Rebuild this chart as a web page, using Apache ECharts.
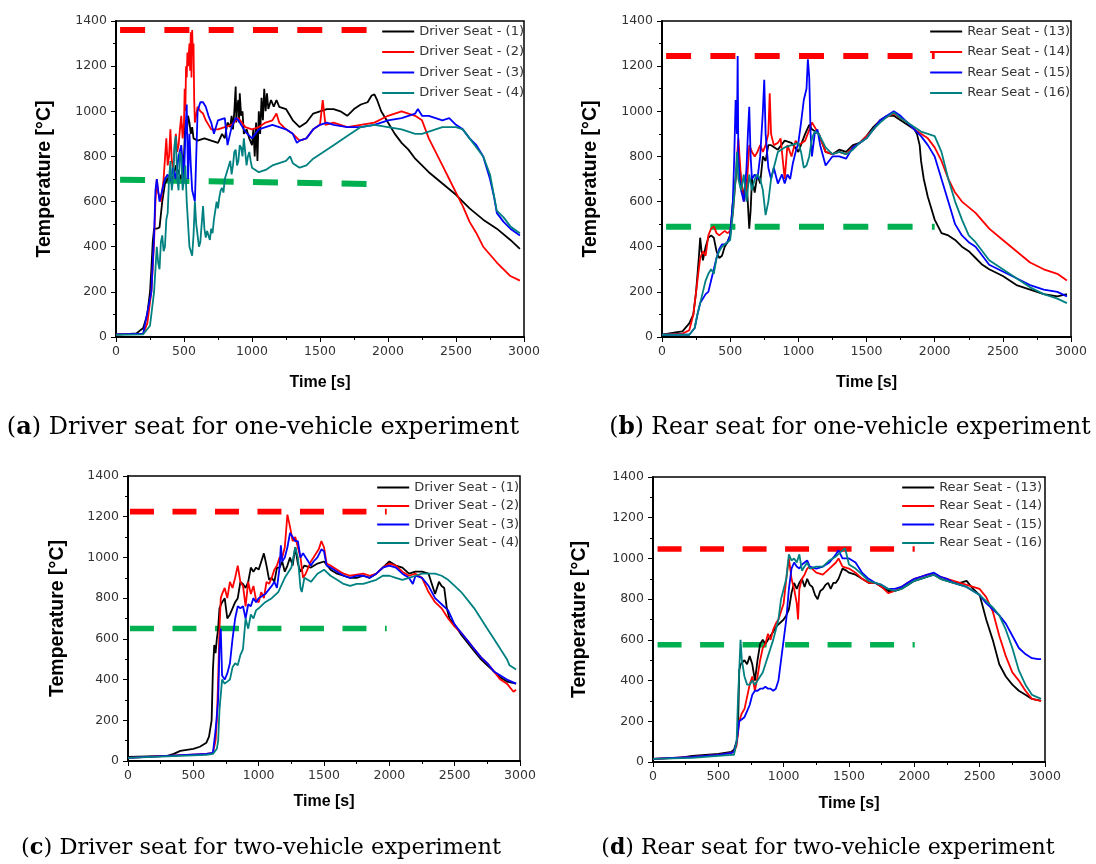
<!DOCTYPE html>
<html>
<head>
<meta charset="utf-8">
<script src="https://cdn.jsdelivr.net/npm/echarts@6/dist/echarts.min.js"></script>
<style>
  html, body { margin: 0; padding: 0; background: #fff; }
  #chart { width: 1096px; height: 864px; }
</style>
</head>
<body>
<div id="chart"></div>
<script>
// ---- labels ----
const driverNames = ['Driver Seat - (1)', 'Driver Seat - (2)', 'Driver Seat - (3)', 'Driver Seat - (4)'];
const rearNames = ['Rear Seat - (13)', 'Rear Seat - (14)', 'Rear Seat - (15)', 'Rear Seat - (16)'];
const captions = [
  ['a', 'Driver seat for one-vehicle experiment'],
  ['b', 'Rear seat for one-vehicle experiment'],
  ['c', 'Driver seat for two-vehicle experiment'],
  ['d', 'Rear seat for two-vehicle experiment']
];
const xTicks = [0, 500, 1000, 1500, 2000, 2500, 3000];
const yTicks = [0, 200, 400, 600, 800, 1000, 1200, 1400];

// ---- (a) driver seat, one vehicle: [time s, temperature °C] ----
const a1 = [[0,12],[100,14],[150,16],[200,40],[230,100],[250,200],[260,300],[270,420],[280,480],[300,480],[320,485],[340,600],[360,680],[380,700],[400,720],[420,700],[440,760],[460,730],[480,700],[500,800],[510,960],[520,900],[530,980],[540,950],[550,900],[560,930],[570,880],[580,880],[600,870],[650,880],[700,870],[750,860],[780,900],[800,880],[820,950],[840,930],[850,980],[860,920],[870,1000],[880,1110],[885,950],[890,1020],[900,1050],[905,950],[910,1080],[920,980],[930,1000],[940,900],[960,920],[980,880],[1000,850],[1010,920],[1020,800],[1030,950],[1040,780],[1050,1000],[1060,900],[1070,1060],[1080,960],[1090,1100],[1100,1000],[1110,1080],[1120,1010],[1140,1050],[1160,1020],[1180,1050],[1200,1020],[1250,1010],[1300,960],[1350,930],[1400,950],[1450,990],[1500,1000],[1550,1010],[1600,1010],[1650,1000],[1700,980],[1750,1010],[1800,1030],[1850,1040],[1880,1070],[1900,1075],[1920,1050],[1950,1000],[2000,950],[2050,900],[2100,860],[2150,830],[2200,790],[2250,760],[2300,730],[2400,680],[2500,630],[2600,570],[2700,520],[2800,480],[2900,430],[2970,390]];
const a2 = [[0,12],[200,15],[230,60],[260,200],[280,420],[290,600],[300,700],[310,640],[330,600],[350,700],[370,880],[380,760],[390,800],[400,920],[410,780],[420,750],[440,900],[450,820],[460,850],[470,920],[480,980],[490,880],[500,950],[505,1100],[510,1000],[515,1200],[520,1150],[525,1260],[530,1200],[540,1300],[545,1180],[550,1350],[555,1150],[560,1360],[565,1250],[570,1300],[575,1050],[580,950],[600,1020],[620,1000],[640,990],[660,960],[700,920],[750,920],[800,930],[850,940],[900,970],[950,930],[1000,920],[1050,930],[1100,950],[1150,960],[1180,990],[1200,950],[1250,920],[1300,900],[1350,870],[1400,880],[1450,920],[1500,940],[1520,1050],[1540,940],[1600,950],[1700,930],[1800,940],[1900,950],[2000,980],[2100,1000],[2150,990],[2200,980],[2250,960],[2300,880],[2350,820],[2400,760],[2450,700],[2500,640],[2550,580],[2600,510],[2650,460],[2700,400],[2800,330],[2900,270],[2970,250]];
const a3 = [[0,12],[200,15],[260,200],[280,450],[290,650],[300,700],[320,600],[340,650],[360,700],[380,720],[400,690],[420,750],[440,700],[460,800],[480,850],[500,700],[510,900],[520,1030],[530,700],[540,900],[550,760],[560,650],[580,600],[600,1000],[620,1040],[640,1040],[660,1020],[680,980],[700,950],[720,900],[750,960],[800,970],[820,850],[850,930],[880,970],[900,960],[950,910],[1000,880],[1050,920],[1100,930],[1150,940],[1200,930],[1250,920],[1300,900],[1330,860],[1350,870],[1400,880],[1450,920],[1500,940],[1550,950],[1600,940],[1700,930],[1800,930],[1900,940],[2000,960],[2100,970],[2200,990],[2220,1010],[2250,980],[2300,980],[2350,970],[2400,960],[2450,970],[2500,940],[2550,920],[2600,880],[2650,850],[2700,800],[2750,700],[2780,620],[2800,550],[2850,510],[2900,480],[2970,450]];
const a4 = [[0,10],[200,12],[250,50],[280,200],[300,400],[310,330],[320,300],[330,420],[340,450],[350,380],[360,400],[370,520],[380,550],[390,700],[400,780],[410,650],[420,700],[430,850],[440,890],[450,700],[460,650],[470,820],[480,800],[490,650],[500,700],[510,760],[520,600],[530,500],[540,400],[550,380],[560,360],[570,450],[580,600],[590,500],[600,450],[610,400],[620,420],[630,500],[640,580],[650,480],[660,440],[670,470],[680,450],[690,430],[700,480],[710,460],[720,520],[730,560],[740,600],[750,570],[760,620],[770,650],[780,660],[790,640],[800,700],[820,740],[840,780],[850,720],[860,760],[870,820],[880,830],[890,760],[900,780],[910,850],[920,840],[930,800],[940,880],[950,820],[960,760],[970,800],[980,820],[990,780],[1000,750],[1050,730],[1100,740],[1150,760],[1200,770],[1250,780],[1280,800],[1300,770],[1350,750],[1400,760],[1450,790],[1500,810],[1600,850],[1700,890],[1800,930],[1900,940],[2000,930],[2100,920],[2200,900],[2250,900],[2300,910],[2400,930],[2500,930],[2550,920],[2600,880],[2700,800],[2750,720],[2800,560],[2850,530],[2900,490],[2970,460]];

// ---- (b) rear seat, one vehicle ----
const b1 = [[0,10],[100,20],[150,25],[200,60],[230,100],[250,200],[270,350],[280,440],[290,380],[300,340],[320,400],[340,440],[360,450],[380,440],[400,380],[420,350],[440,360],[460,400],[480,420],[500,450],[520,600],[540,700],[560,800],[580,700],[600,620],[620,700],[640,480],[650,560],[660,700],[680,640],[700,720],[720,680],[740,800],[760,780],[780,850],[800,850],[850,830],[900,870],[950,860],[1000,820],[1050,900],[1080,940],[1100,920],[1150,900],[1200,820],[1250,810],[1300,830],[1350,820],[1400,850],[1450,860],[1500,890],[1550,930],[1600,960],[1650,980],[1700,980],[1750,960],[1800,940],[1850,920],[1870,900],[1890,850],[1900,780],[1920,700],[1950,620],[1970,580],[2000,520],[2050,460],[2100,450],[2150,430],[2200,400],[2250,380],[2300,350],[2350,320],[2400,300],[2500,270],[2600,230],[2700,210],[2800,190],[2900,180],[2970,190]];
const b2 = [[0,10],[150,15],[200,30],[230,100],[260,250],[280,350],[300,380],[320,360],[340,450],[360,480],[380,490],[400,460],[420,450],[440,460],[460,470],[480,460],[500,470],[520,550],[540,700],[560,880],[580,700],[600,600],[620,650],[640,850],[660,820],[680,800],[700,820],[720,850],[740,820],[760,850],[780,900],[790,1080],[800,900],[820,850],[850,860],[870,880],[900,700],[920,850],[950,800],[980,870],[1000,850],[1050,870],[1100,950],[1150,900],[1200,820],[1250,810],[1300,820],[1350,810],[1400,840],[1450,860],[1500,890],[1550,920],[1600,960],[1650,975],[1700,990],[1750,970],[1800,950],[1850,920],[1900,900],[1950,880],[2000,840],[2050,780],[2100,700],[2150,640],[2200,600],[2300,550],[2400,480],[2500,430],[2600,380],[2700,330],[2800,300],[2900,280],[2970,250]];
const b3 = [[0,10],[200,10],[240,40],[260,100],[280,150],[300,170],[320,190],[340,200],[360,250],[380,300],[400,350],[420,390],[440,410],[460,410],[480,420],[500,450],[520,600],[530,800],[540,1050],[550,900],[555,1245],[560,800],[570,700],[580,650],[600,600],[620,750],[630,900],[640,1020],[650,800],[660,700],[680,720],[700,700],[720,800],[740,1000],[750,1140],[760,900],[780,750],[800,700],[820,750],[850,680],[880,720],[900,680],[920,720],[940,700],[960,770],[980,820],[1000,860],[1020,950],[1040,1050],[1060,1100],[1070,1230],[1080,1150],[1090,900],[1100,800],[1120,900],[1140,920],[1160,850],[1200,760],[1250,800],[1300,800],[1350,790],[1400,840],[1450,860],[1500,880],[1550,920],[1600,960],[1650,980],[1700,1000],[1750,980],[1800,950],[1850,920],[1900,890],[1950,850],[2000,800],[2050,700],[2100,600],[2150,500],[2200,450],[2250,420],[2300,400],[2400,320],[2500,290],[2600,260],[2700,230],[2800,210],[2900,200],[2970,180]];
const b4 = [[0,10],[200,10],[240,40],[260,100],[280,150],[300,200],[320,250],[340,280],[360,300],[380,280],[400,350],[420,380],[440,400],[460,410],[480,420],[500,430],[520,550],[540,700],[550,820],[560,700],[580,650],[600,720],[620,600],[640,720],[660,650],[680,700],[700,720],[720,700],[740,650],[760,540],[780,600],[800,700],[820,750],[850,820],[900,840],[950,850],[1000,860],[1020,820],[1040,750],[1060,760],[1080,800],[1100,880],[1120,910],[1150,900],[1200,840],[1250,810],[1300,820],[1350,810],[1400,830],[1450,860],[1500,880],[1550,920],[1600,950],[1650,975],[1700,995],[1750,970],[1800,950],[1850,930],[1900,910],[1950,900],[2000,890],[2050,820],[2100,700],[2150,600],[2200,520],[2250,450],[2300,420],[2400,340],[2500,300],[2600,260],[2700,220],[2800,190],[2900,170],[2970,150]];

// ---- (c) driver seat, two vehicles ----
const c1 = [[0,20],[300,25],[350,35],[400,50],[450,55],[500,60],[550,70],[600,90],[620,120],[640,200],[650,450],[660,570],[670,530],[680,600],[690,650],[700,750],[720,780],[740,800],[760,700],[780,720],[800,750],[820,780],[840,800],[860,880],[880,870],[900,850],[920,880],[940,950],[960,930],[980,950],[1000,940],[1020,980],[1040,1020],[1060,960],[1080,890],[1100,900],[1120,880],[1140,950],[1160,950],[1180,980],[1200,930],[1220,960],[1240,1000],[1260,960],[1280,1050],[1300,970],[1320,930],[1350,960],[1400,950],[1450,970],[1500,980],[1550,940],[1600,920],[1650,910],[1700,900],[1750,900],[1800,910],[1850,900],[1900,920],[1950,950],[2000,980],[2050,960],[2100,950],[2150,920],[2200,930],[2250,930],[2300,920],[2350,820],[2380,880],[2400,860],[2420,850],[2440,750],[2460,700],[2500,670],[2550,620],[2600,580],[2650,540],[2700,500],[2750,470],[2800,440],[2850,410],[2900,390],[2970,380]];
const c2 = [[0,15],[600,35],[650,40],[670,100],[680,200],[690,400],[700,650],[710,800],[720,820],[740,850],[760,800],[780,880],[800,850],[820,900],[840,960],[860,880],[880,860],[900,760],[920,880],[940,820],[960,860],[980,790],[1000,780],[1020,830],[1040,800],[1060,880],[1080,870],[1100,900],[1120,940],[1140,960],[1160,1000],[1180,1000],[1200,1050],[1220,1210],[1240,1150],[1260,1080],[1280,1100],[1300,1050],[1320,1000],[1340,900],[1360,920],[1380,950],[1400,980],[1420,1000],[1440,1020],[1460,1040],[1480,1080],[1500,1050],[1520,970],[1550,960],[1600,940],[1650,920],[1700,910],[1750,915],[1800,920],[1850,910],[1900,920],[1950,950],[2000,970],[2050,960],[2100,930],[2150,910],[2200,920],[2250,900],[2300,830],[2350,780],[2400,750],[2450,700],[2500,660],[2550,630],[2600,590],[2650,550],[2700,510],[2750,480],[2800,440],[2850,400],[2900,380],[2950,340],[2970,350]];
const c3 = [[0,15],[600,35],[650,40],[670,150],[690,300],[700,550],[710,650],[720,420],[740,400],[760,430],[780,480],[800,600],[820,700],[840,760],[860,750],[880,760],[900,700],[920,770],[940,760],[960,800],[980,780],[1000,800],[1050,820],[1100,860],[1120,880],[1140,850],[1160,950],[1170,1060],[1180,980],[1200,1000],[1220,1050],[1240,1120],[1260,1100],[1280,1080],[1300,1080],[1320,1000],[1340,1020],[1360,1000],[1380,980],[1400,960],[1420,980],[1450,1000],[1480,1040],[1500,1030],[1520,960],[1550,950],[1600,930],[1650,910],[1700,900],[1750,910],[1800,910],[1850,900],[1900,920],[1950,950],[2000,960],[2050,950],[2100,920],[2150,900],[2180,870],[2200,910],[2250,900],[2300,860],[2350,800],[2400,770],[2450,740],[2500,670],[2550,630],[2600,590],[2650,550],[2700,510],[2750,480],[2800,440],[2850,420],[2900,400],[2970,380]];
const c4 = [[0,15],[600,30],[650,35],[680,60],[690,100],[700,250],[720,400],[740,380],[760,390],[780,400],[800,460],[820,480],[840,470],[860,520],[880,550],[900,700],[920,650],[940,720],[960,700],[980,740],[1000,750],[1050,780],[1100,800],[1150,830],[1200,900],[1250,950],[1280,1050],[1300,1000],[1320,850],[1330,830],[1350,900],[1400,880],[1450,920],[1500,940],[1550,910],[1600,890],[1650,870],[1700,860],[1750,870],[1800,870],[1850,880],[1900,890],[1950,910],[2000,910],[2050,900],[2100,890],[2150,900],[2200,910],[2250,920],[2300,920],[2350,920],[2400,910],[2450,890],[2500,860],[2550,830],[2600,790],[2650,750],[2700,700],[2750,650],[2800,600],[2850,550],[2900,500],[2920,470],[2970,450]];

// ---- (d) rear seat, two vehicles ----
const d1 = [[0,15],[200,20],[300,30],[400,35],[500,40],[600,50],[620,60],[640,100],[650,150],[660,450],[670,480],[700,500],[720,480],[740,520],[760,480],[780,400],[800,500],[820,580],[840,600],[860,580],[880,600],[900,620],[920,640],[950,670],[1000,700],[1020,720],[1040,750],[1060,830],[1080,880],[1100,850],[1120,880],[1140,900],[1160,860],[1180,900],[1200,870],[1220,860],[1240,820],[1260,800],[1280,840],[1300,850],[1320,870],[1340,880],[1360,850],[1380,880],[1400,880],[1420,900],[1450,950],[1480,940],[1500,930],[1550,920],[1600,900],[1650,880],[1700,880],[1750,860],[1800,840],[1850,840],[1900,850],[1950,870],[2000,890],[2050,900],[2100,910],[2150,920],[2200,900],[2250,890],[2300,880],[2350,880],[2400,890],[2450,850],[2500,820],[2550,700],[2600,600],[2650,480],[2700,420],[2750,380],[2800,350],[2850,330],[2900,310],[2970,300]];
const d2 = [[0,15],[300,25],[500,35],[600,45],[620,50],[640,80],[660,200],[680,240],[700,260],[720,320],[740,380],[760,420],[780,350],[800,420],[820,500],[840,560],[860,580],[880,630],[900,600],[920,650],[940,680],[960,700],[980,740],[1000,780],[1020,900],[1040,1000],[1060,900],[1080,850],[1100,780],[1110,700],[1120,850],[1140,900],[1160,920],[1180,950],[1200,960],[1250,930],[1300,920],[1350,950],[1400,980],[1420,1000],[1450,960],[1500,950],[1550,930],[1600,900],[1650,880],[1700,880],[1750,860],[1800,830],[1850,840],[1900,860],[1950,880],[2000,900],[2050,910],[2100,920],[2150,920],[2200,910],[2250,900],[2300,890],[2350,880],[2400,870],[2450,860],[2500,850],[2550,810],[2600,740],[2650,620],[2700,520],[2750,440],[2800,400],[2850,350],[2900,310],[2970,300]];
const d3 = [[0,15],[300,25],[500,35],[600,45],[620,50],[640,100],[660,200],[680,210],[700,220],[720,250],[740,280],[760,330],[780,350],[800,350],[820,360],[840,360],[860,370],[880,360],[900,360],[920,350],[940,360],[960,400],[980,500],[1000,600],[1020,700],[1040,850],[1060,950],[1080,980],[1100,960],[1120,950],[1140,970],[1160,980],[1180,990],[1200,960],[1250,950],[1300,960],[1350,980],[1400,1020],[1420,1040],[1450,1000],[1500,1000],[1550,980],[1600,930],[1650,900],[1700,880],[1750,870],[1800,850],[1850,850],[1900,860],[1950,880],[2000,900],[2050,910],[2100,920],[2150,930],[2200,910],[2250,900],[2300,880],[2350,870],[2400,860],[2450,840],[2500,820],[2550,780],[2600,750],[2650,720],[2700,680],[2750,620],[2800,560],[2850,530],[2900,510],[2950,505],[2970,505]];
const d4 = [[0,15],[300,20],[500,30],[600,35],[620,35],[640,100],[650,300],[660,450],[670,600],[680,500],[700,420],[720,380],[740,380],[760,400],[780,380],[800,400],[820,420],[840,440],[860,480],[880,520],[900,560],[920,600],[940,650],[960,700],[980,800],[1000,850],[1020,900],[1040,1020],[1060,990],[1080,1000],[1100,980],[1120,1020],[1140,940],[1160,960],[1180,980],[1200,950],[1250,960],[1300,960],[1350,990],[1400,1010],[1450,1040],[1470,1050],[1500,970],[1550,950],[1600,920],[1650,890],[1700,880],[1750,870],[1800,850],[1850,840],[1900,850],[1950,870],[2000,890],[2050,900],[2100,910],[2150,920],[2200,900],[2250,890],[2300,880],[2350,870],[2400,860],[2450,840],[2500,820],[2550,790],[2600,760],[2650,720],[2700,650],[2750,560],[2800,450],[2850,380],[2900,330],[2970,310]];

// ---- dashed reference levels: [[t0, T0], [t1, T1]] ----
const refRed = [
  [[30,1360],[1845,1360]],
  [[30,1245],[2000,1245]],
  [[15,1225],[1980,1225]],
  [[35,1046],[2003,1046]]
];
const refGreen = [
  [[30,697],[1845,678]],
  [[30,489],[2000,489]],
  [[15,651],[1980,651]],
  [[35,576],[2003,576]]
];

const panelSeries = [[a1,a2,a3,a4],[b1,b2,b3,b4],[c1,c2,c3,c4],[d1,d2,d3,d4]];
const panelNames = [driverNames, rearNames, driverNames, rearNames];
const lineColors = ['#000000', '#ff0000', '#0000ff', '#008080'];

// ---- layout ----
const grids = [
  { left: 116, top: 21, width: 408, height: 316 },
  { left: 662, top: 21, width: 409, height: 316 },
  { left: 128, top: 476, width: 392, height: 285 },
  { left: 653, top: 477, width: 392, height: 285 }
];
const yNameGap = [61, 61, 60, 63];
const xNameGap = [38, 38, 33, 34];
const legendPos = [
  { right: 572, top: 25, itemGap: 7.5 },
  { right: 26, top: 25, itemGap: 7.5 },
  { right: 577, top: 481, itemGap: 5.5 },
  { right: 54, top: 481, itemGap: 5.5 }
];
const dashPattern = [[25, 19.3], [25, 19.3], [24, 18.5], [24, 18.5]];
const dashWidth = [6, 6, 5.6, 5.6];
const captionPos = [[263, 428, 24], [850, 428, 23.4], [261, 848, 22.5], [828, 848, 22]];

const SANS = 'DejaVu Sans';
const SERIF = 'DejaVu Serif';
// flat bar used as the legend key so no marker dot is drawn
const LEGEND_LINE = 'path://M0,0h32v2h-32z';

const option = {
  animation: false,
  backgroundColor: '#ffffff',
  grid: grids.map(g => Object.assign({ show: true, borderColor: '#000', borderWidth: 1.5, backgroundColor: 'transparent' }, g)),
  xAxis: grids.map((g, i) => ({
    type: 'value', gridIndex: i, min: 0, max: 3000, interval: 500,
    name: 'Time [s]', nameLocation: 'middle', nameGap: xNameGap[i],
    nameTextStyle: { fontFamily: 'Liberation Sans', fontWeight: 'bold', fontSize: 16, color: '#000' },
    axisLine: { show: true, onZero: false, lineStyle: { color: '#000', width: 2 } },
    axisTick: { show: true, inside: false, length: 5, lineStyle: { color: '#000', width: 1 } },
    minorTick: { show: true, splitNumber: 2, length: 3, lineStyle: { color: '#000', width: 1 } },
    splitLine: { show: false },
    axisLabel: { color: '#333', fontFamily: SANS, fontSize: 12.5, margin: 8,
      formatter: v => (xTicks.indexOf(v) >= 0 ? String(v) : '') }
  })),
  yAxis: grids.map((g, i) => ({
    type: 'value', gridIndex: i, min: 0, max: 1400, interval: 200,
    name: 'Temperature [°C]', nameLocation: 'middle', nameGap: yNameGap[i], nameRotate: 90,
    nameTextStyle: { fontFamily: 'Liberation Sans', fontWeight: 'bold', fontSize: 19.5, color: '#000' },
    axisLine: { show: true, onZero: false, lineStyle: { color: '#000', width: 2 } },
    axisTick: { show: true, inside: false, length: 5, lineStyle: { color: '#000', width: 1 } },
    minorTick: { show: true, splitNumber: 2, length: 3, lineStyle: { color: '#000', width: 1 } },
    splitLine: { show: false },
    axisLabel: { color: '#333', fontFamily: SANS, fontSize: 12.5, margin: 9,
      formatter: v => (yTicks.indexOf(v) >= 0 ? String(v) : '') }
  })),
  legend: legendPos.map((p, i) => ({
    data: panelNames[i], orient: 'vertical', right: p.right, top: p.top,
    icon: LEGEND_LINE, itemWidth: 32, itemHeight: 12, itemGap: p.itemGap, padding: 0,
    selectedMode: false,
    textStyle: { fontFamily: SANS, fontSize: 13, color: '#333' }
  })),
  series: [],
  graphic: captions.map((c, i) => ({
    type: 'text', x: captionPos[i][0], y: captionPos[i][1],
    style: {
      text: '({b|' + c[0] + '}) ' + c[1],
      font: captionPos[i][2] + 'px "' + SERIF + '"',
      fill: '#000', align: 'center', verticalAlign: 'middle',
      rich: { b: { fontWeight: 'bold', fontFamily: SERIF, fontSize: captionPos[i][2], fill: '#000' } }
    }
  }))
};

panelSeries.forEach((set, i) => {
  [[refRed[i], '#ff0000'], [refGreen[i], '#00b050']].forEach(([pts, col]) => {
    option.series.push({
      type: 'line', xAxisIndex: i, yAxisIndex: i, data: pts, z: 1,
      symbol: 'none', silent: true,
      lineStyle: { color: col, width: dashWidth[i], type: dashPattern[i], cap: 'butt' }
    });
  });
  set.forEach((pts, k) => {
    option.series.push({
      name: panelNames[i][k], type: 'line', xAxisIndex: i, yAxisIndex: i,
      data: pts, z: 2, symbol: 'none', showSymbol: false,
      color: lineColors[k],
      lineStyle: { color: lineColors[k], width: 1.8 }
    });
  });
});

const chart = echarts.init(document.getElementById('chart'), null, { renderer: 'canvas' });
chart.setOption(option);
</script>
</body>
</html>
